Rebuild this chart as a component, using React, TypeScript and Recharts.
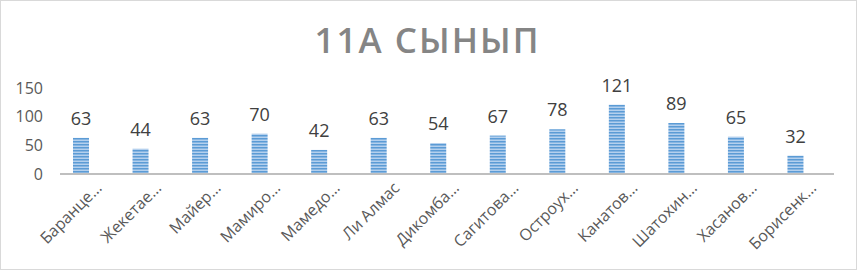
import React from 'react';
import { BarChart, Bar, XAxis, YAxis, LabelList, ReferenceLine } from 'recharts';

const students = [
  'Баранце…',
  'Жекетае…',
  'Майер…',
  'Мамиро…',
  'Мамедо…',
  'Ли Алмас',
  'Дикомба…',
  'Сагитова…',
  'Остроух…',
  'Канатов…',
  'Шатохин…',
  'Хасанов…',
  'Борисенк…',
];
const scores = [63, 44, 63, 70, 42, 63, 54, 67, 78, 121, 89, 65, 32];
const yTicks = [0, 50, 100, 150];

const data = students.map((name, i) => ({ name, score: scores[i] }));

const FONT = '"Open Sans", sans-serif';

const StudentTick = (props: any) => {
  const { x, y, payload } = props;
  const bx = x + 22;
  const by = y + 15;
  return (
    <text
      x={bx}
      y={by}
      textAnchor="end"
      fill="#595959"
      fontSize={16}
      fontFamily={FONT}
      transform={`rotate(-45, ${bx}, ${by})`}
    >
      {payload.value}
    </text>
  );
};

// axis line in the original sits a few px to the right of the bars
const AxisLine = (props: any) => {
  const { x1, y1, x2, y2 } = props;
  return <line x1={x1 + 9} y1={y1} x2={x2 + 9} y2={y2} stroke="#bfbfbf" strokeWidth={2} />;
};

const App: React.FC = () => {
  return (
    <div style={{ position: 'absolute', left: 0, top: 0, width: 858, height: 271, background: '#fff' }}>
      <div
        style={{
          position: 'absolute',
          left: 0,
          top: 0,
          width: 857,
          height: 270,
          border: '1px solid #d9d9d9',
          boxSizing: 'border-box',
        }}
      />
      <div
        style={{
          position: 'absolute',
          left: 0,
          top: 22,
          width: 855,
          textAlign: 'center',
          fontFamily: FONT,
          fontWeight: 600,
          fontSize: 35,
          lineHeight: '35px',
          letterSpacing: 2,
          color: '#858585',
        }}
      >
        11A СЫНЫП
      </div>
      <div style={{ position: 'absolute', left: 0, top: 0 }}>
        <BarChart
          width={858}
          height={271}
          data={data}
          margin={{ top: 88, right: 33, bottom: 0, left: 0 }}
        >
          <defs>
            <pattern id="stripes" width="4" height="3" patternUnits="userSpaceOnUse">
              <rect width="4" height="3" fill="#b4d0ee" />
              <rect width="4" height="1.5" fill="#5b9bd5" />
            </pattern>
          </defs>
          <XAxis
            dataKey="name"
            axisLine={false}
            tickLine={false}
            tickSize={0}
            tickMargin={0}
            height={97}
            interval={0}
            tick={<StudentTick />}
          />
          <YAxis
            domain={[0, 150]}
            ticks={yTicks}
            width={51}
            axisLine={false}
            tickLine={false}
            tickSize={0}
            tickMargin={8}
            tick={{ fill: '#595959', fontSize: 16, fontFamily: FONT }}
          />
          <Bar dataKey="score" fill="url(#stripes)" barSize={16} isAnimationActive={false}>
            <LabelList
              dataKey="score"
              position="top"
              offset={13}
              fill="#404040"
              fontSize={18}
              fontFamily={FONT}
            />
          </Bar>
          <ReferenceLine y={0} shape={<AxisLine />} />
        </BarChart>
      </div>
    </div>
  );
};

export default App;
